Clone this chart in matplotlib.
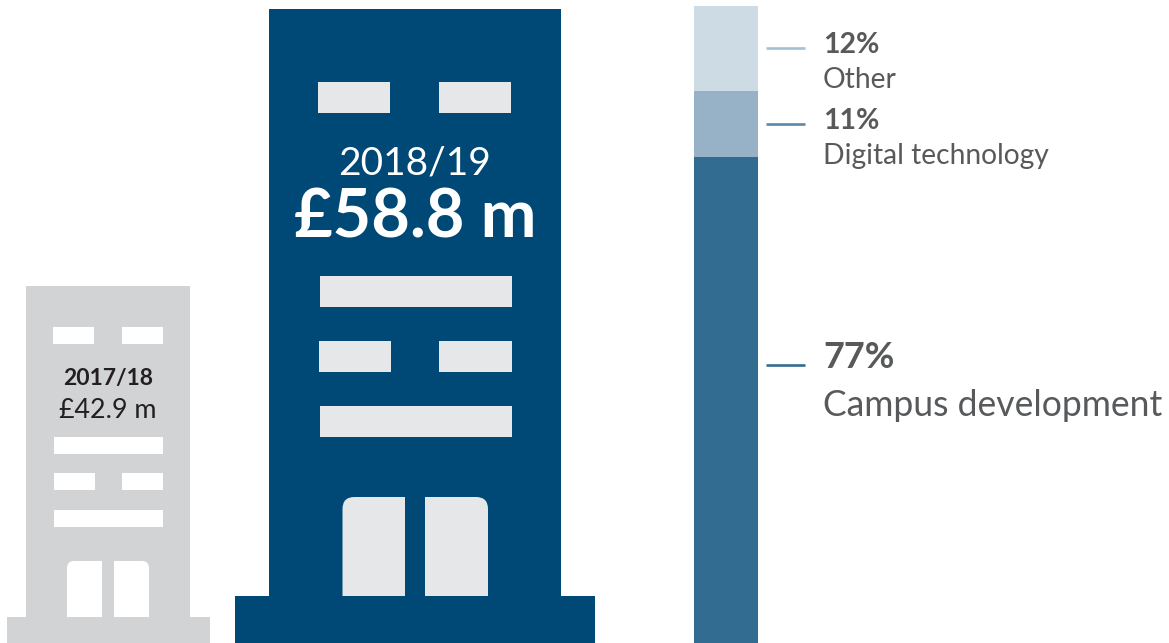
"""Capital spend infographic: two buildings and a stacked share bar."""

import matplotlib

matplotlib.use("Agg")

import matplotlib.pyplot as plt
from matplotlib.patches import PathPatch, Rectangle
from matplotlib.path import Path

plt.rcParams["font.family"] = ["Lato", "DejaVu Sans"]

# ---- Data ----
years = ["2017/18", "2018/19"]
spend_labels = ["£42.9 m", "£58.8 m"]
share_labels = ["12%", "11%", "77%"]
share_names = ["Other", "Digital technology", "Campus development"]
# segment heights as measured off the bar (percent of bar height)
bar_shares = [13.3, 10.4, 76.3]

GREY = "#D1D3D4"
NAVY = "#004976"
PALE = "#E6E7E9"
TEXT = "#58595B"
SEG_COLORS = ["#CDDBE5", "#97B2C7", "#336C91"]
LINE_COLORS = ["#A5BFD3", "#5A88A8", "#336C91"]

BAR_TOP, BAR_BOTTOM = 6, 643


def add_box(ax, x0, y0, x1, y1, color):
    ax.add_patch(Rectangle((x0, y0), x1 - x0, y1 - y0, facecolor=color, edgecolor="none"))


def add_door(ax, x0, x1, y0, y1, r, color, round_left):
    # y grows downward here, y0 is the top of the door
    if round_left:
        verts = [(x0, y1), (x0, y0 + r), (x0, y0), (x0 + r, y0), (x1, y0), (x1, y1), (x0, y1)]
    else:
        verts = [(x1, y1), (x1, y0 + r), (x1, y0), (x1 - r, y0), (x0, y0), (x0, y1), (x1, y1)]
    codes = [Path.MOVETO, Path.LINETO, Path.CURVE3, Path.CURVE3, Path.LINETO, Path.LINETO, Path.CLOSEPOLY]
    ax.add_patch(PathPatch(Path(verts, codes), facecolor=color, edgecolor="none"))


def draw_small_building(ax):
    add_box(ax, 26, 286, 190, 617, GREY)
    add_box(ax, 7, 617, 210, 643, GREY)
    for x0, y0, x1, y1 in [
        (53, 327, 94, 344), (122, 327, 163, 344),
        (54, 437, 163, 454),
        (54, 473, 95, 490), (122, 473, 163, 490),
        (54, 510, 163, 527),
    ]:
        add_box(ax, x0, y0, x1, y1, "white")
    add_door(ax, 67, 102, 561, 617, 7, "white", True)
    add_door(ax, 114, 149, 561, 617, 7, "white", False)
    ax.text(108, 378, years[0], ha="center", va="center", fontsize=16.5, fontweight="bold", color="#231F20")
    ax.text(108, 410, spend_labels[0], ha="center", va="center", fontsize=19.4, color="#231F20")


def draw_big_building(ax):
    add_box(ax, 269, 9, 561, 596, NAVY)
    add_box(ax, 235, 596, 595, 643, NAVY)
    for x0, y0, x1, y1 in [
        (318, 82, 390, 113), (439, 82, 511, 113),
        (320, 276, 512, 307),
        (319, 341, 391, 372), (439, 341, 512, 372),
        (320, 406, 512, 437),
    ]:
        add_box(ax, x0, y0, x1, y1, PALE)
    add_door(ax, 342.5, 405, 497, 596, 12, PALE, True)
    add_door(ax, 425, 488, 497, 596, 12, PALE, False)
    ax.text(415, 164, years[1], ha="center", va="center", fontsize=28, color="white")
    ax.text(415, 218, spend_labels[1], ha="center", va="center", fontsize=48, fontweight="bold", color="white")


def draw_share_bar(ax):
    scale = (BAR_BOTTOM - BAR_TOP) / sum(bar_shares)
    bottom = BAR_TOP
    for share, color in zip(bar_shares, SEG_COLORS):
        ax.bar(726, share * scale, width=64, bottom=bottom, color=color, linewidth=0)
        bottom += share * scale

    # label rows: rule y, number y, name y, font sizes
    rows = [(48, 45, 80, 20.5, 20.3), (124, 121, 156, 20.5, 20.3), (365, 358, 405, 26, 25.6)]
    for i, (rule_y, num_y, name_y, num_fs, name_fs) in enumerate(rows):
        ax.plot([765.5, 805], [rule_y, rule_y], color=LINE_COLORS[i], linewidth=1.9, solid_capstyle="butt")
        ax.text(823, num_y, share_labels[i], ha="left", va="center", fontsize=num_fs, fontweight="bold", color=TEXT)
        ax.text(823, name_y, share_names[i], ha="left", va="center", fontsize=name_fs, color=TEXT)


def main():
    fig = plt.figure(figsize=(11.69, 6.43), dpi=100)
    ax = fig.add_axes([0, 0, 1, 1])
    ax.set_xlim(0, 1169)
    ax.set_ylim(643, 0)
    ax.axis("off")

    draw_small_building(ax)
    draw_big_building(ax)
    draw_share_bar(ax)

    fig.savefig("out.png", dpi=100)


if __name__ == "__main__":
    main()
